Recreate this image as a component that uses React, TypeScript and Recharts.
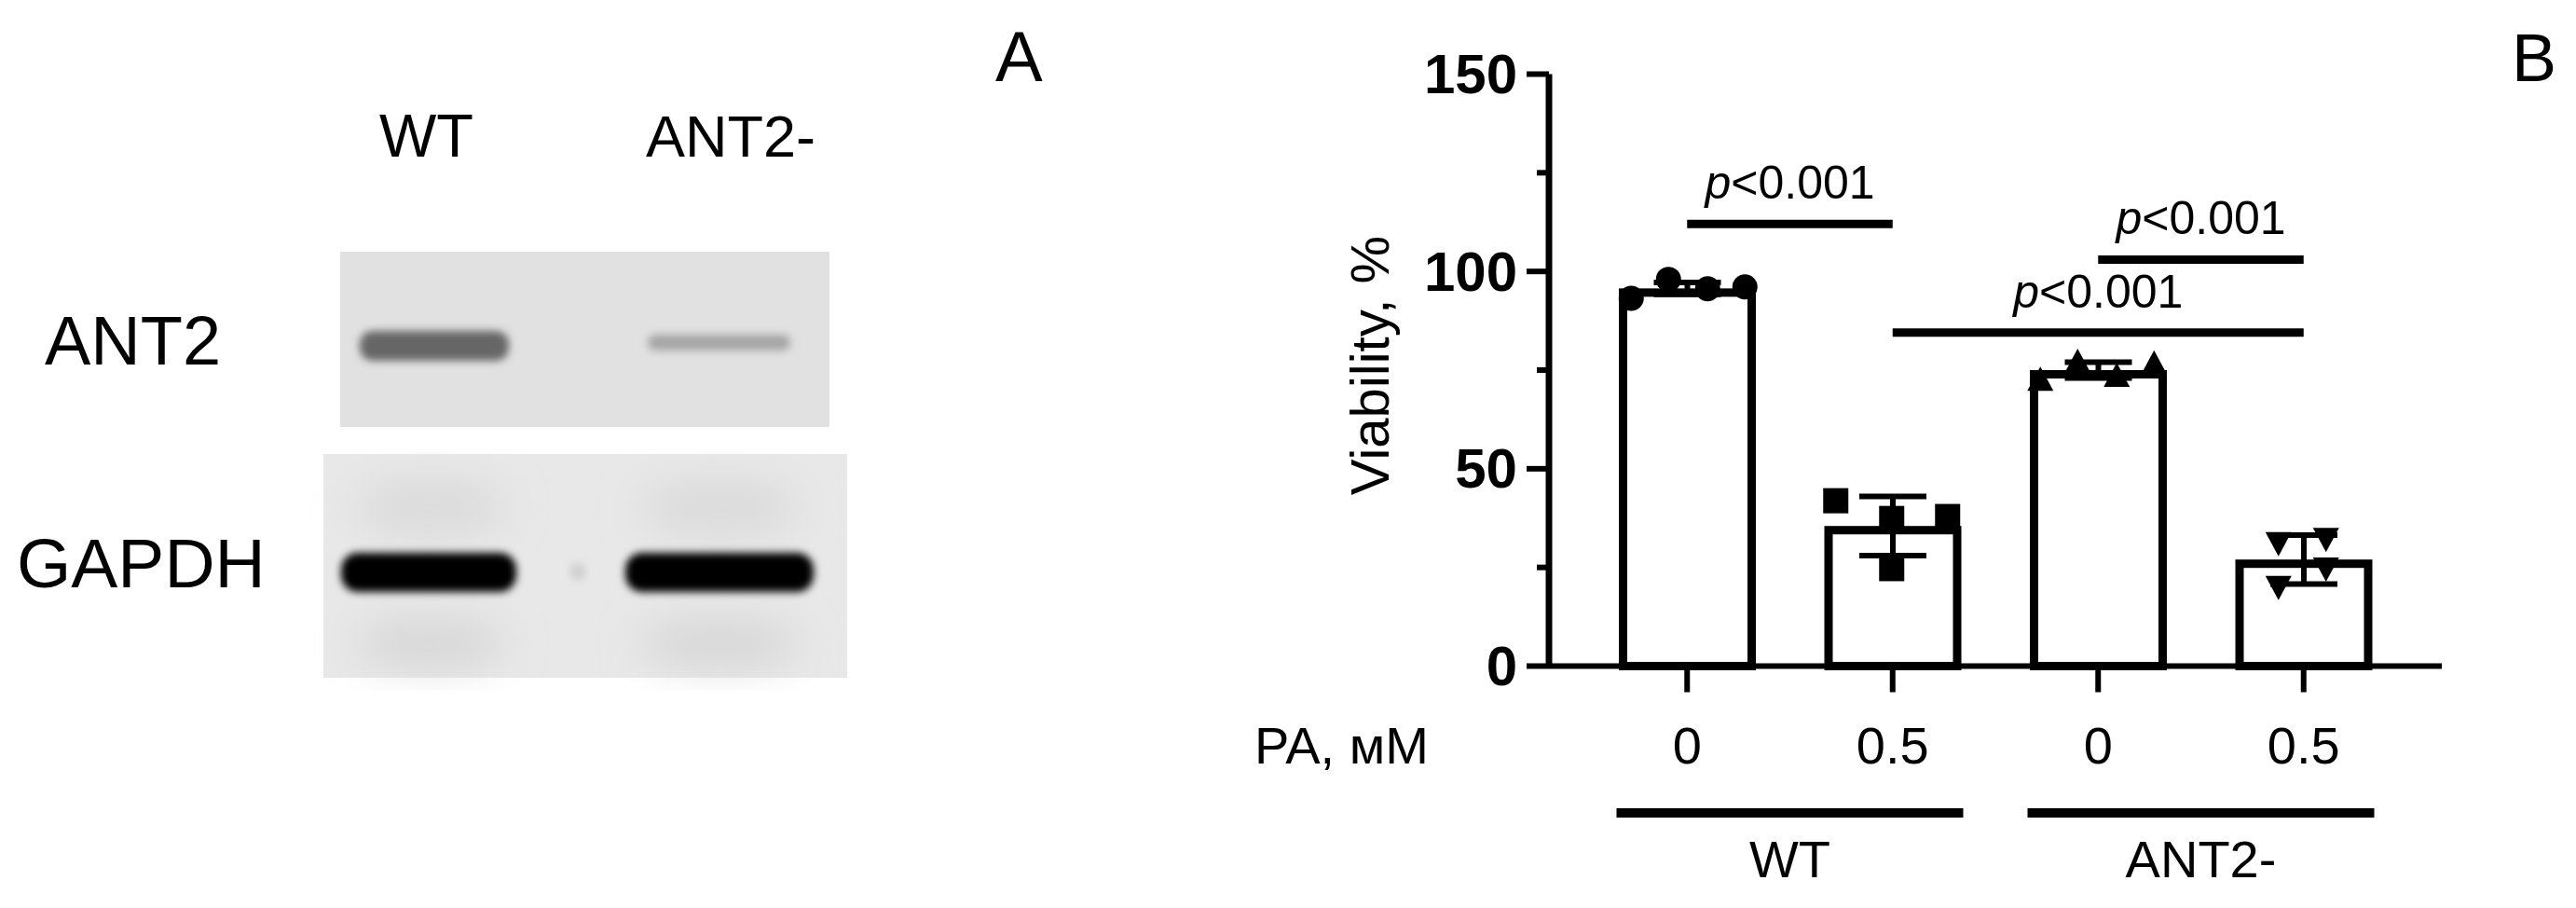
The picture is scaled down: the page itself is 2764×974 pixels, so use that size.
import React from 'react';
import { ComposedChart, Bar, XAxis, YAxis, ErrorBar, Scatter, ReferenceLine } from 'recharts';

// viability, % (panel B)
const groups = ['WT', 'WT', 'ANT2-', 'ANT2-'];
const doses = ['0', '0.5', '0', '0.5'];
const keys = ['WT-0', 'WT-0.5', 'ANT2-0', 'ANT2-0.5'];
const means = [95.7, 35.5, 75.0, 27.0];
const sds = [1.5, 7.5, 2.0, 6.2];

const wt0Points = [93.2, 98.0, 95.6, 96.1];
const wt05Points = [41.9, 37.4, 37.9, 24.7];
const ant0Points = [72.6, 77.1, 73.6, 76.7];
const ant05Points = [31.1, 32.2, 24.7, 20.0];

const yTicks = [0, 25, 50, 75, 100, 125, 150];

const comparisons = [
  { from: 'WT-0', to: 'WT-0.5', y: 112, text: '<0.001' },
  { from: 'ANT2-0', to: 'ANT2-0.5', y: 103, text: '<0.001' },
  { from: 'WT-0.5', to: 'ANT2-0.5', y: 84.5, text: '<0.001' },
];

const FONT = '"Liberation Sans", Arial, sans-serif';
// horizontal spread of replicate dots (px), as GraphPad places them
const JITTER = [
  [-60, -20, 22, 62],
  [-61, -1, 59, -1],
  [-62, -22, 20, 60],
  [-27, 24, 24, -27],
];

const rows = keys.map((k, i) => ({ key: k, group: groups[i], dose: doses[i], mean: means[i], sd: sds[i] }));
const toPoints = (k: string, vals: number[]) => vals.map((v, rep) => ({ key: k, v, rep }));

const OutlinedBar = (p: any) => {
  const s = 9;
  const { x, y, width, height } = p;
  return <rect x={x + s / 2} y={y + s / 2} width={width - s} height={height - s / 2} fill="#fff" stroke="#000" strokeWidth={s} />;
};

const marker = (kind: number) => (p: any) => {
  const cx = p.cx + JITTER[kind][p.payload.rep];
  const cy = p.cy;
  if (kind === 0) return <circle cx={cx} cy={cy} r={13.5} fill="#000" />;
  if (kind === 1) return <rect x={cx - 13.5} y={cy - 13.5} width={27} height={27} fill="#000" />;
  if (kind === 2) return <polygon points={`${cx},${cy - 14} ${cx - 14},${cy + 12} ${cx + 14},${cy + 12}`} fill="#000" />;
  return <polygon points={`${cx - 14},${cy - 12} ${cx + 14},${cy - 12} ${cx},${cy + 14}`} fill="#000" />;
};

const YTick = (p: any) => {
  const { x, y, payload } = p;
  const major = payload.value % 50 === 0;
  return (
    <g>
      <line x1={x} x2={x - (major ? 24 : 13)} y1={y} y2={y} stroke="#000" strokeWidth={6} />
      {major && (
        <text x={x - 34} y={y} textAnchor="end" dominantBaseline="central" fontFamily={FONT} fontWeight="bold" fontSize={60} fill="#000">
          {payload.value}
        </text>
      )}
    </g>
  );
};

const DoseTick = (p: any) => {
  const { x, y, payload } = p;
  const dose = doses[keys.indexOf(payload.value)];
  return (
    <g>
      <line x1={x} x2={x} y1={y} y2={y + 28} stroke="#000" strokeWidth={6} />
      <text x={x} y={y + 104} textAnchor="middle" fontFamily={FONT} fontSize={56} fill="#000">{dose}</text>
    </g>
  );
};

const GroupTick = (p: any) => {
  const { x, y, payload } = p;
  return (
    <g>
      <line x1={x - 186} x2={x + 186} y1={y + 27.5} y2={y + 27.5} stroke="#000" strokeWidth={10} />
      <text x={x} y={y + 96.5} textAnchor="middle" fontFamily={FONT} fontSize={56} fill="#000">{payload.value}</text>
    </g>
  );
};

const PaLabel = (p: any) => {
  const vb = p.viewBox;
  return <text x={vb.x - 316} y={vb.y + 104} fontFamily={FONT} fontSize={56} fill="#000">PA, мM</text>;
};

const ViabilityLabel = (p: any) => {
  const vb = p.viewBox;
  const x = vb.x + vb.width - 172;
  const y = vb.y + vb.height / 2 - 5;
  return (
    <text x={x} y={y} transform={`rotate(-90 ${x} ${y})`} textAnchor="middle" fontFamily={FONT} fontSize={58} fill="#000">
      Viability, %
    </text>
  );
};

const PLabel = (p: any) => {
  const vb = p.viewBox;
  return (
    <text x={vb.x + vb.width / 2} y={vb.y - 27} textAnchor="middle" fontFamily={FONT} fontSize={50} fill="#000">
      <tspan fontStyle="italic">p</tspan>{p.text}
    </text>
  );
};

function Blot() {
  return (
    <svg width={1200} height={974} style={{ position: 'absolute', left: 0, top: 0 }}>
      <defs>
        <filter id="b3" x="-20%" y="-50%" width="140%" height="200%"><feGaussianBlur stdDeviation="4" /></filter>
        <filter id="b20" x="-50%" y="-50%" width="200%" height="200%"><feGaussianBlur stdDeviation="22" /></filter>
      </defs>
      <text x={1068} y={87} fontFamily={FONT} fontSize={76} fill="#000">A</text>
      <text x={407} y={168} fontFamily={FONT} fontSize={65} fill="#000">WT</text>
      <text x={693} y={168} fontFamily={FONT} fontSize={63} fill="#000">ANT2-</text>
      <text x={48} y={391} fontFamily={FONT} fontSize={74} fill="#000">ANT2</text>
      <text x={18} y={630} fontFamily={FONT} fontSize={75} fill="#000">GAPDH</text>
      {/* ANT2 membrane */}
      <rect x={365} y={270} width={525} height={188} fill="#e1e1e1" />
      <rect x={386} y={355} width={160} height={32} rx={14} fill="#666" filter="url(#b3)" />
      <rect x={695} y={359} width={153} height={17} rx={8} fill="#a6a6a6" filter="url(#b3)" />
      {/* GAPDH membrane */}
      <rect x={347} y={487} width={562} height={240} fill="#e8e8e8" />
      <ellipse cx={462} cy={545} rx={80} ry={30} fill="#dadada" filter="url(#b20)" />
      <ellipse cx={772} cy={545} rx={85} ry={30} fill="#dadada" filter="url(#b20)" />
      <ellipse cx={462} cy={690} rx={80} ry={25} fill="#d6d6d6" filter="url(#b20)" />
      <ellipse cx={772} cy={690} rx={85} ry={25} fill="#d6d6d6" filter="url(#b20)" />
      <rect x={366} y={593} width={188} height={42} rx={18} fill="#050505" filter="url(#b3)" />
      <rect x={671} y={593} width={202} height={42} rx={18} fill="#050505" filter="url(#b3)" />
      <circle cx={620} cy={613} r={9} fill="#cfcfcf" filter="url(#b3)" />
    </svg>
  );
}

export default function App() {
  return (
    <div style={{ position: 'absolute', left: 0, top: 0, width: 2764, height: 974, background: '#fff', overflow: 'hidden' }}>
      <Blot />
      <div style={{ position: 'absolute', left: 0, top: 0 }}>
        <ComposedChart width={2764} height={974} data={rows} margin={{ top: 79.5, right: 144, bottom: 29.5, left: 1462 }}>
          <XAxis
            dataKey="key"
            allowDuplicatedCategory={false}
            interval={0}
            padding={{ left: 38, right: 38 }}
            height={130}
            tickSize={0}
            tickMargin={0}
            tickLine={false}
            axisLine={{ stroke: '#000', strokeWidth: 6 }}
            tick={<DoseTick />}
            label={<PaLabel />}
          />
          <XAxis
            xAxisId="grp"
            dataKey="group"
            allowDuplicatedCategory={false}
            interval={0}
            padding={{ left: 38, right: 38 }}
            height={100}
            tickSize={0}
            tickMargin={0}
            tickLine={false}
            axisLine={false}
            tick={<GroupTick />}
          />
          <YAxis
            type="number"
            domain={[0, 150]}
            ticks={yTicks}
            interval={0}
            width={200}
            tickSize={0}
            tickMargin={0}
            tickLine={false}
            axisLine={{ stroke: '#000', strokeWidth: 7 }}
            tick={<YTick />}
            label={<ViabilityLabel />}
          />
          <Bar dataKey="mean" barSize={147} shape={OutlinedBar} isAnimationActive={false}>
            <ErrorBar dataKey="sd" direction="y" width={36} stroke="#000" strokeWidth={6} />
          </Bar>
          <Scatter data={toPoints('WT-0', wt0Points)} dataKey="v" shape={marker(0)} isAnimationActive={false} />
          <Scatter data={toPoints('WT-0.5', wt05Points)} dataKey="v" shape={marker(1)} isAnimationActive={false} />
          <Scatter data={toPoints('ANT2-0', ant0Points)} dataKey="v" shape={marker(2)} isAnimationActive={false} />
          <Scatter data={toPoints('ANT2-0.5', ant05Points)} dataKey="v" shape={marker(3)} isAnimationActive={false} />
          {comparisons.map((c, i) => (
            <ReferenceLine
              key={i}
              segment={[{ x: c.from, y: c.y }, { x: c.to, y: c.y }]}
              stroke="#000"
              strokeWidth={9}
              label={<PLabel text={c.text} />}
            />
          ))}
        </ComposedChart>
      </div>
      <svg width={120} height={120} style={{ position: 'absolute', left: 2670, top: 0 }}>
        <text x={25} y={87} fontFamily={FONT} fontSize={72} fill="#000">B</text>
      </svg>
    </div>
  );
}
